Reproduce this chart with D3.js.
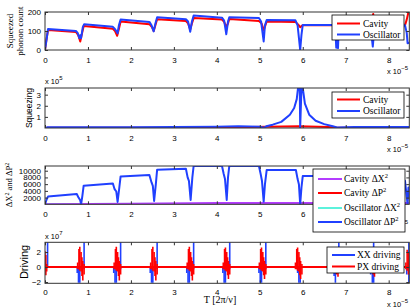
<!DOCTYPE html>
<html>
<head>
<meta charset="utf-8">
<script src="https://d3js.org/d3.v7.min.js"></script>
<style>
body { margin: 0; background: #fff; }
svg { display: block; }
.tick text { font-family: "Liberation Sans", Arial, sans-serif; font-size: 8px; fill: #000; }
.tick line { stroke: #333; }
.serif { font-family: "Liberation Serif", "Times New Roman", serif; }
.sans { font-family: "Liberation Sans", Arial, sans-serif; }
</style>
</head>
<body>
<script>
//time axis, units of 1e-5
var tMax = 8.48;
var xTicks = [0, 1, 2, 3, 4, 5, 6, 7, 8];

//panel 1: squeezed phonon count
var phononCavity = [[0,0],[0.03,50],[0.07,105],[0.72,95],[0.77,80],[0.82,45],[0.86,85],[0.90,126],
    [1.58,112],[1.63,100],[1.68,75],[1.72,110],[1.76,150],[2.43,136],[2.49,120],[2.53,100],[2.57,130],[2.61,162],
    [3.28,152],[3.33,140],[3.38,108],[3.42,140],[3.46,168],[4.12,160],[4.17,148],[4.22,120],[4.26,140],[4.29,163],
    [4.98,153],[5.04,140],[5.09,105],[5.13,130],[5.16,150],[5.83,148],[5.89,135],[5.94,120],[5.98,128],[6.00,130],
    [6.76,130],[6.80,122],[6.84,130],[7.60,130],[7.64,190],[7.66,130],[8.38,130],[8.42,160],[8.46,200],[8.48,200]];
var phononOsc = [[0,0],[0.04,60],[0.07,110],[0.72,100],[0.76,90],[0.80,62],[0.82,78],[0.84,62],[0.88,120],[0.91,135],
    [1.58,122],[1.62,112],[1.66,100],[1.69,88],[1.72,130],[1.76,160],[2.43,148],[2.48,130],[2.53,98],[2.57,140],[2.61,172],
    [3.28,162],[3.33,150],[3.38,96],[3.42,150],[3.46,181],[4.12,170],[4.17,155],[4.22,83],[4.26,150],[4.29,172],
    [4.98,168],[5.03,150],[5.09,45],[5.12,130],[5.16,158],[5.83,156],[5.88,130],[5.94,0],[5.97,80],[6.00,132],
    [6.72,132],[6.76,100],[6.78,12],[6.80,60],[6.82,10],[6.84,128],[7.58,130],[7.61,60],[7.63,18],[7.65,70],[7.67,128],
    [8.38,130],[8.42,90],[8.44,36],[8.48,38]];
var phononTicks = [0, 100, 200];

//panel 2: squeezing, units of 1e5
var squeezeCavity = [[0,0],[0.05,0.03],[4.5,0.04],[4.8,0.1],[5.9,0.15],[6.6,0.1],[6.8,0.03],[8.48,0.03]];
var squeezeOsc = [[0,0],[0.05,0.06],[1,0.07],[2,0.07],[3,0.09],[4,0.12],[4.5,0.15],[5.0,0.12],[5.09,0.02],[5.15,0.15],
    [5.3,0.3],[5.5,0.55],[5.7,1.2],[5.8,1.8],[5.86,2.6],[5.89,3.6],[5.93,3.6],[5.94,0],[5.97,3.6],[6.0,3.6],
    [6.05,2.2],[6.15,1.2],[6.3,0.65],[6.5,0.35],[6.7,0.15],[6.8,0.05],[7.2,0.08],[8,0.08],[8.48,0.08]];
var squeezeTicks = [1, 2, 3];

//panel 3: variances
var varCavityX = [[0,0],[0.07,50],[2,200],[4,350],[8.48,400]];
var varCavityP = [[0,0],[0.07,60],[8.48,80]];
var varOscX = [[0,0],[0.07,120],[8.48,150]];
var varOscP = [[0,0],[0.04,1500],[0.07,2300],[0.74,3050],[0.78,2000],[0.82,1200],[0.84,0],[0.87,2500],[0.90,5550],
    [1.58,6200],[1.62,4500],[1.66,3800],[1.69,700],[1.73,5000],[1.76,8300],[2.43,8700],[2.48,6500],[2.51,5500],[2.54,1000],
    [2.58,6000],[2.61,10300],[3.28,10600],[3.32,8000],[3.35,7000],[3.39,1300],[3.43,8000],[3.46,11400],[4.12,11400],
    [4.16,9000],[4.19,7500],[4.23,1300],[4.26,8000],[4.29,11400],[4.98,11400],[5.02,9000],[5.05,7000],[5.09,800],
    [5.12,6000],[5.16,10200],[5.84,10200],[5.88,7500],[5.91,6000],[5.94,0],[5.97,5000],[6.00,8400],[6.76,8400],
    [6.80,0],[6.84,8000],[7.60,8000],[7.64,0],[7.68,7000],[8.38,7000],[8.44,0],[8.46,5000],[8.48,5000]];
var varTicks = [2000, 4000, 6000, 8000, 10000];

//panel 4: driving pulses [t, low, high], units of 1e7
var xxPulses = [[0.06,0,3.3],
    [0.75,-0.8,0],[0.78,-2.1,0],[0.81,-2.1,0],[0.91,-0.3,3.3],
    [1.60,-0.8,0],[1.63,-2.1,0],[1.66,-2.1,0],[1.76,-0.3,3.3],
    [2.45,-0.8,0],[2.48,-2.1,0],[2.51,-2.1,0],[2.61,-0.3,3.3],
    [3.30,-0.8,0],[3.33,-2.1,0],[3.36,-2.1,0],[3.46,-0.3,3.3],
    [4.14,-0.8,0],[4.17,-2.1,0],[4.20,-2.1,0],[4.30,-0.3,3.3],
    [4.98,-0.8,0],[5.01,-2.1,0],[5.04,-2.1,0],[5.14,-0.3,3.3],
    [5.88,-0.8,0],[5.91,-2.1,0],[5.94,-2.1,0.4],
    [6.73,-1.2,0],[6.76,-2.1,0],[6.84,0,3.3],
    [7.58,-1.0,0],[7.62,-2.1,0],[7.65,-2.1,3.3],
    [8.42,-1.0,0],[8.47,-2.1,3.3]];
var pxPulses = [[0.00,-0.3,2.1],[0.02,-1.1,1.6],[0.04,-0.6,0.4],
    [0.76,-0.3,0.6],[0.79,-0.3,2.4],[0.81,-0.5,2.7],[0.84,-0.6,2.0],[0.86,-1.2,1.3],[0.88,-1.8,0.8],[0.91,-1.0,0.4],
    [1.61,-0.3,0.6],[1.64,-0.3,2.4],[1.66,-0.5,2.7],[1.69,-0.6,2.0],[1.71,-1.2,1.3],[1.73,-1.8,0.8],[1.76,-1.0,0.4],
    [2.46,-0.3,0.6],[2.49,-0.3,2.4],[2.51,-0.5,2.7],[2.54,-0.6,2.0],[2.56,-1.2,1.3],[2.58,-1.8,0.8],[2.61,-1.0,0.4],
    [3.31,-0.3,0.6],[3.34,-0.3,2.4],[3.36,-0.5,2.7],[3.39,-0.6,2.0],[3.41,-1.2,1.3],[3.43,-1.8,0.8],[3.46,-1.0,0.4],
    [4.15,-0.3,0.6],[4.18,-0.3,2.4],[4.20,-0.5,2.6],[4.23,-0.6,2.0],[4.25,-1.1,1.3],[4.27,-1.6,0.8],[4.30,-1.0,0.4],
    [4.99,-0.3,0.6],[5.02,-0.3,2.4],[5.04,-0.5,2.6],[5.07,-0.6,2.0],[5.09,-1.1,1.3],[5.11,-1.6,0.8],[5.14,-1.0,0.4],
    [5.83,-0.3,0.6],[5.86,-0.3,2.4],[5.88,-0.5,2.6],[5.91,-0.6,2.0],[5.93,-1.1,1.3],[5.95,-1.6,0.8],[5.98,-1.0,0.4],
    [6.70,-0.3,0.6],[6.73,-0.3,2.0],[6.76,-0.6,2.2],[6.79,-1.0,1.5],[6.82,-1.3,0.8],
    [7.55,-0.3,0.6],[7.58,-0.3,2.0],[7.61,-0.6,2.2],[7.64,-1.0,1.5],[7.67,-1.3,0.8],
    [8.40,-0.3,0.6],[8.43,-0.5,2.3],[8.46,-1.0,2.0]];
var driveTicks = [-2, 0, 2];

var w = 415, h = 308;
var blue = "#2040ff", red = "#ff0000", purple = "#b43cff", cyan = "#5cf2dc";

var svg = d3.select("body").append("svg")
    .attr("width", w)
    .attr("height", h);

var x = d3.scaleLinear().domain([0, tMax]).range([45, 409.3]);

//panel boxes
var panels = [
    {top: 12, bottom: 50, domain: [0, 200], ticks: phononTicks},
    {top: 88, bottom: 128, domain: [0, 3.6], ticks: squeezeTicks},
    {top: 166, bottom: 204.3, domain: [0, 11400], ticks: varTicks},
    {top: 242.3, bottom: 283.3, domain: [-2.17, 3.3], ticks: driveTicks}
];

panels.forEach(function (p, i) {
    p.y = d3.scaleLinear().domain(p.domain).range([p.bottom, p.top]);
    svg.append("clipPath").attr("id", "clip" + i)
        .append("rect")
        .attr("x", x.range()[0]).attr("y", p.top)
        .attr("width", x.range()[1] - x.range()[0])
        .attr("height", p.bottom - p.top);
    p.g = svg.append("g");
    p.plot = p.g.append("g").attr("clip-path", "url(#clip" + i + ")");
});

function drawAxes(p, i) {
    var g = p.g;
    g.append("g").attr("transform", "translate(0," + p.bottom + ")")
        .call(d3.axisBottom(x).tickValues(xTicks).tickSize(-3).tickPadding(i == 3 ? 6 : 7).tickFormat(d3.format("d")))
        .call(function (s) { s.select(".domain").remove(); });
    g.append("g").attr("transform", "translate(0," + p.top + ")")
        .call(d3.axisTop(x).tickValues(xTicks).tickSize(-3).tickFormat(""))
        .call(function (s) { s.select(".domain").remove(); });
    g.append("g").attr("transform", "translate(" + x.range()[0] + ",0)")
        .call(d3.axisLeft(p.y).tickValues(p.ticks).tickSize(-3).tickPadding(4).tickFormat(d3.format("d")))
        .call(function (s) { s.select(".domain").remove(); });
    g.append("g").attr("transform", "translate(" + x.range()[1] + ",0)")
        .call(d3.axisRight(p.y).tickValues(p.ticks).tickSize(-3).tickFormat(""))
        .call(function (s) { s.select(".domain").remove(); });
    g.append("rect")
        .attr("x", x.range()[0]).attr("y", p.top)
        .attr("width", x.range()[1] - x.range()[0])
        .attr("height", p.bottom - p.top)
        .style("fill", "none").style("stroke", "#333").style("stroke-width", 1);
    //x 10^-5 label
    var e = g.append("text").attr("class", "sans")
        .attr("x", 387).attr("y", p.bottom + 24)
        .style("font-size", "7.5px").text("x 10");
    e.append("tspan").attr("dy", -4).style("font-size", "6px").text("\u22125");
}

function drawLine(p, data, color) {
    var line = d3.line()
        .x(function (d) { return x(d[0]); })
        .y(function (d) { return p.y(d[1]); });
    p.plot.append("path")
        .datum(data)
        .attr("d", line)
        .style("fill", "none")
        .style("stroke", color)
        .style("stroke-width", 2)
        .style("stroke-linejoin", "round");
}

function drawPulses(p, data, color) {
    p.plot.selectAll(null)
        .data(data)
        .enter()
        .append("line")
        .attr("x1", function (d) { return x(d[0]); })
        .attr("x2", function (d) { return x(d[0]); })
        .attr("y1", function (d) { return p.y(d[1]); })
        .attr("y2", function (d) { return p.y(d[2]); })
        .style("stroke", color)
        .style("stroke-width", 1.6);
}

//panel 1
drawLine(panels[0], phononCavity, red);
drawLine(panels[0], phononOsc, blue);
//panel 2
drawLine(panels[1], squeezeCavity, red);
drawLine(panels[1], squeezeOsc, blue);
//panel 3
drawLine(panels[2], varCavityP, red);
drawLine(panels[2], varOscX, cyan);
drawLine(panels[2], varCavityX, purple);
drawLine(panels[2], varOscP, blue);
//panel 4
drawPulses(panels[3], xxPulses, blue);
drawLine(panels[3], [[0, 0], [tMax, 0]], red);
drawPulses(panels[3], pxPulses, red);

panels.forEach(drawAxes);

//y labels
function yLabel(cx, cy, cls, size, txt) {
    return svg.append("text").attr("class", cls)
        .attr("transform", "translate(" + cx + "," + cy + ") rotate(-90)")
        .attr("text-anchor", "middle")
        .style("font-size", size)
        .text(txt);
}
yLabel(13, 31, "serif", "9px", "Squeezed");
yLabel(23, 31, "serif", "9px", "phonon count");
yLabel(32, 108, "sans", "8.5px", "Squeezing");
var vl = yLabel(12, 185, "serif", "8.5px", "\u0394X");
vl.append("tspan").attr("dy", -3).style("font-size", "6px").text("2");
vl.append("tspan").attr("dy", 3).text(" and \u0394P");
vl.append("tspan").attr("dy", -3).style("font-size", "6px").text("2");
yLabel(28, 262, "sans", "11px", "Driving");

//axis exponent labels
[[84, "5"], [239, "7"]].forEach(function (d) {
    var t = svg.append("text").attr("class", "sans")
        .attr("x", 45).attr("y", d[0])
        .style("font-size", "7.5px").text("x 10");
    t.append("tspan").attr("dy", -4).style("font-size", "6px").text(d[1]);
});

//x label
svg.append("text").attr("class", "serif")
    .attr("x", 220).attr("y", 303)
    .attr("text-anchor", "middle")
    .style("font-size", "10px")
    .text("T [2\u03c0/\u03bd]");

//legends
function legend(box, lineX, textX, rows) {
    var g = svg.append("g");
    g.append("rect")
        .attr("x", box[0]).attr("y", box[1]).attr("width", box[2]).attr("height", box[3])
        .style("fill", "#fff").style("stroke", "#000").style("stroke-width", 0.8);
    rows.forEach(function (r) {
        g.append("line")
            .attr("x1", lineX[0]).attr("x2", lineX[1])
            .attr("y1", r.y).attr("y2", r.y)
            .style("stroke", r.color).style("stroke-width", 2);
        var t = g.append("text").attr("class", "serif")
            .attr("x", textX).attr("y", r.y + 3.3)
            .style("font-size", "9.5px")
            .text(r.label);
        if (r.sup) {
            t.append("tspan").attr("dy", -4).style("font-size", "6.5px").text(r.sup);
        }
    });
}
legend([332, 15, 72, 25], [337, 360], 363, [
    {y: 23.5, color: red, label: "Cavity"},
    {y: 34.5, color: blue, label: "Oscillator"}]);
legend([332, 92, 72, 26], [337, 360], 363, [
    {y: 99.5, color: red, label: "Cavity"},
    {y: 111, color: blue, label: "Oscillator"}]);
legend([313, 169, 92, 63], [318, 342], 344, [
    {y: 179, color: purple, label: "Cavity \u0394X", sup: "2"},
    {y: 193, color: red, label: "Cavity \u0394P", sup: "2"},
    {y: 208, color: cyan, label: "Oscillator \u0394X", sup: "2"},
    {y: 222, color: blue, label: "Oscillator \u0394P", sup: "2"}]);
legend([327, 247, 77, 26], [332, 355], 357, [
    {y: 255, color: blue, label: "XX driving"},
    {y: 266.5, color: red, label: "PX driving"}]);
</script>
</body>
</html>
